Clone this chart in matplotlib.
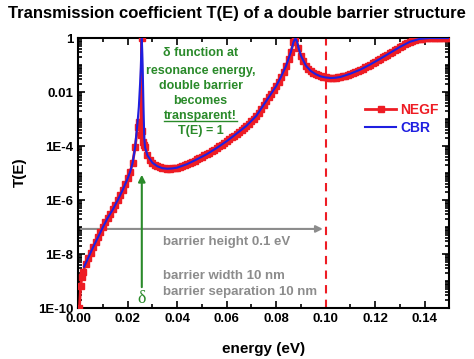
import matplotlib
matplotlib.use('Agg')
from matplotlib import pyplot as plt
from matplotlib.ticker import FixedLocator, NullFormatter, MultipleLocator
from matplotlib.lines import Line2D
import numpy as np

plt.rcParams['font.family'] = ['Liberation Sans', 'DejaVu Sans']
plt.rcParams['font.weight'] = 'bold'

# NEGF results (energy in eV, log10 of T)
e_negf = [0.0005, 0.001, 0.0015, 0.002, 0.003, 0.004, 0.005, 0.006, 0.007, 0.008,
          0.009, 0.010, 0.011, 0.012, 0.013, 0.014, 0.015, 0.016, 0.017, 0.018,
          0.019, 0.020, 0.021, 0.022, 0.023, 0.024, 0.0245, 0.0250, 0.0253, 0.0256,
          0.0259, 0.0262, 0.0266, 0.027, 0.028, 0.029, 0.030, 0.031, 0.032, 0.033,
          0.034, 0.035, 0.036, 0.037, 0.038, 0.039, 0.040, 0.041, 0.042, 0.043,
          0.044, 0.045, 0.046, 0.047, 0.048, 0.049, 0.050, 0.051, 0.052, 0.053,
          0.054, 0.055, 0.056, 0.057, 0.058, 0.059, 0.060, 0.061, 0.062, 0.063,
          0.064, 0.065, 0.066, 0.067, 0.068, 0.069, 0.070, 0.071, 0.072, 0.073,
          0.074, 0.075, 0.076, 0.077, 0.078, 0.079, 0.080, 0.081, 0.082, 0.083,
          0.084, 0.085, 0.086, 0.087, 0.0878, 0.089, 0.090, 0.091, 0.092, 0.093,
          0.094, 0.095, 0.096, 0.097, 0.098, 0.099, 0.100, 0.101, 0.102, 0.103,
          0.104, 0.105, 0.106, 0.107, 0.108, 0.109, 0.110, 0.111, 0.112, 0.113,
          0.114, 0.115, 0.116, 0.117, 0.118, 0.119, 0.120, 0.121, 0.122, 0.123,
          0.124, 0.125, 0.126, 0.127, 0.128, 0.129, 0.130, 0.131, 0.132, 0.133,
          0.134, 0.135, 0.136, 0.137, 0.138, 0.139, 0.140, 0.141, 0.142, 0.143,
          0.144, 0.145, 0.146, 0.147, 0.148, 0.149, 0.150]
logt_negf = [-10.0, -9.2, -8.85, -8.65, -8.38, -8.15, -7.95, -7.75, -7.56, -7.38,
             -7.19, -7.0, -6.82, -6.65, -6.5, -6.35, -6.18, -6.0, -5.81, -5.62,
             -5.42, -5.2, -4.95, -4.62, -4.05, -3.3, -3.1, -3.25, -3.6, 0.0,
             -3.45, -3.85, -3.95, -4.05, -4.35, -4.52, -4.62, -4.69, -4.75, -4.79,
             -4.82, -4.83, -4.84, -4.84, -4.83, -4.82, -4.80, -4.77, -4.74, -4.71,
             -4.67, -4.63, -4.58, -4.54, -4.49, -4.45, -4.40, -4.35, -4.30, -4.25,
             -4.19, -4.13, -4.07, -4.01, -3.95, -3.89, -3.82, -3.75, -3.68, -3.61,
             -3.54, -3.47, -3.40, -3.33, -3.25, -3.17, -3.08, -2.98, -2.88, -2.76,
             -2.62, -2.48, -2.33, -2.20, -2.07, -1.93, -1.78, -1.61, -1.43, -1.24,
             -1.03, -0.78, -0.50, -0.15, 0.0, -0.35, -0.65, -0.86, -1.02, -1.13,
             -1.22, -1.29, -1.34, -1.38, -1.42, -1.44, -1.46, -1.47, -1.48, -1.48,
             -1.47, -1.46, -1.44, -1.42, -1.39, -1.36, -1.32, -1.29, -1.25, -1.21,
             -1.17, -1.13, -1.08, -1.03, -0.98, -0.93, -0.88, -0.83, -0.77, -0.72,
             -0.66, -0.61, -0.55, -0.50, -0.44, -0.39, -0.33, -0.28, -0.23, -0.18,
             -0.14, -0.10, -0.07, -0.05, -0.03, -0.02, -0.01, 0.0, 0.0, 0.0,
             0.0, 0.0, 0.0, 0.0, 0.0, 0.0, 0.0]

# CBR results
e_cbr = [0.0024, 0.004, 0.006, 0.008, 0.010, 0.012, 0.014, 0.016, 0.018, 0.020,
         0.021, 0.022, 0.023, 0.024, 0.0245, 0.0250, 0.0253, 0.0255, 0.0257, 0.0259,
         0.0261, 0.0264, 0.0267, 0.027, 0.028, 0.030, 0.032, 0.034, 0.036, 0.038,
         0.040, 0.044, 0.048, 0.052, 0.056, 0.060, 0.064, 0.068, 0.072, 0.076,
         0.080, 0.082, 0.084, 0.086, 0.087, 0.0878, 0.0885, 0.089, 0.090, 0.092,
         0.094, 0.096, 0.098, 0.100, 0.102, 0.104, 0.106, 0.110, 0.114, 0.118,
         0.122, 0.126, 0.130, 0.134, 0.138, 0.142, 0.146, 0.150]
logt_cbr = [-8.47, -8.15, -7.75, -7.38, -7.0, -6.65, -6.35, -6.0, -5.62, -5.2,
            -4.95, -4.62, -4.05, -3.1, -2.55, -1.7, -1.1, -0.5, 0.0, -0.6,
            -1.3, -2.6, -3.7, -4.05, -4.35, -4.62, -4.75, -4.82, -4.84, -4.83,
            -4.80, -4.67, -4.49, -4.30, -4.07, -3.82, -3.54, -3.25, -2.88, -2.33,
            -1.78, -1.43, -1.03, -0.50, -0.15, 0.0, -0.15, -0.35, -0.65, -1.02,
            -1.22, -1.34, -1.42, -1.46, -1.48, -1.47, -1.44, -1.32, -1.17, -0.98,
            -0.77, -0.55, -0.33, -0.14, -0.03, 0.0, 0.0, 0.0]

resonance_e = 0.0257
barrier_height = 0.1
arrow_level = 8.5e-8

red = '#ee1c24'
blue = '#1f1fe0'
green = '#2a8a2a'
gray = '#8c8c8c'

fig = plt.figure(figsize=(4.74, 3.59), dpi=100)
ax = fig.add_axes([0.165, 0.142, 0.783, 0.752])

ax.plot(e_negf, 10.0 ** np.array(logt_negf), color=red, lw=2, marker='s',
        ms=4.5, mec=red, mfc=red, label='NEGF', zorder=3)
ax.plot(e_cbr, 10.0 ** np.array(logt_cbr), color=blue, lw=1.5, label='CBR', zorder=4)

ax.set_yscale('log')
ax.set_xlim(0, 0.15)
ax.set_ylim(1e-10, 1)

# barrier height marker
ax.axvline(barrier_height, color=red, lw=1.5, ls=(0, (4, 3)), zorder=2)
ax.annotate('', xy=(barrier_height, arrow_level), xytext=(0, arrow_level),
            arrowprops=dict(arrowstyle='-|>', color=gray, lw=1.5, mutation_scale=10),
            zorder=2)

# resonance arrow
ax.annotate('', xy=(resonance_e, 0.504), xytext=(resonance_e, 0.067),
            xycoords=('data', 'axes fraction'), textcoords=('data', 'axes fraction'),
            arrowprops=dict(arrowstyle='-|>', color=green, lw=1.5, mutation_scale=10))
ax.text(resonance_e, 0.035, 'δ', transform=ax.get_xaxis_transform(),
        ha='center', va='center', color=green, fontsize=13, fontweight='normal',
        family='Liberation Serif')

green_lines = ['δ function at', 'resonance energy,', 'double barrier',
               'becomes', 'transparent!', 'T(E) = 1']
green_y = [53, 71, 86, 101, 116, 131]
txts = []
for s, yp in zip(green_lines, green_y):
    t = ax.text(0.33, (308 - yp) / 270, s, transform=ax.transAxes, ha='center',
                va='center', color=green, fontsize=9, fontweight='bold')
    txts.append(t)

gray_lines = ['barrier height 0.1 eV', 'barrier width 10 nm', 'barrier separation 10 nm']
gray_y = [242, 276, 292]
for s, yp in zip(gray_lines, gray_y):
    ax.text(0.229, (308 - yp) / 270, s, transform=ax.transAxes, ha='left',
            va='center', color=gray, fontsize=9.5, fontweight='bold')

# ticks
ax.yaxis.set_major_locator(FixedLocator([1e-10, 1e-8, 1e-6, 1e-4, 1e-2, 1]))
minor = [m * 10.0 ** d for d in range(-10, 0) for m in range(2, 10)]
minor += [10.0 ** d for d in (-9, -7, -5, -3, -1)]
ax.yaxis.set_minor_locator(FixedLocator(minor))
ax.yaxis.set_minor_formatter(NullFormatter())
ax.set_yticklabels(['1E-10', '1E-8', '1E-6', '1E-4', '0.01', '1'])
ax.xaxis.set_major_locator(MultipleLocator(0.02))
ax.xaxis.set_minor_locator(MultipleLocator(0.01))
ax.set_xticklabels(['%.2f' % v for v in ax.get_xticks()])
ax.tick_params(which='both', direction='in', top=True, right=True, width=1.2,
               labelsize=9.5)
ax.tick_params(which='major', length=5)
ax.tick_params(which='minor', length=3)
for sp in ax.spines.values():
    sp.set_linewidth(1.5)
for lab in ax.get_xticklabels() + ax.get_yticklabels():
    lab.set_fontweight('bold')

leg = ax.legend(loc='center left', bbox_to_anchor=(0.74, 0.70), frameon=False,
                fontsize=10, handlelength=2.2, handletextpad=0.3, labelspacing=0.3)
for text, c in zip(leg.get_texts(), [red, blue]):
    text.set_color(c)
    text.set_fontweight('bold')

ax.set_xlabel('energy (eV)', fontsize=11, fontweight='bold', labelpad=12)
fig.text(0.042, 0.52, 'T(E)', rotation=90, ha='center', va='center',
         fontsize=11, fontweight='bold')
fig.text(0.5, 0.963, 'Transmission coefficient T(E) of a double barrier structure',
         ha='center', va='center', fontsize=12, fontweight='bold')

# underline "transparent!"
fig.canvas.draw()
bb = txts[4].get_window_extent()
fig.add_artist(Line2D([bb.x0 / fig.bbox.width, bb.x1 / fig.bbox.width],
                      [(bb.y0 + 1) / fig.bbox.height] * 2,
                      color=green, lw=1))

plt.savefig('out.png', dpi=100)
